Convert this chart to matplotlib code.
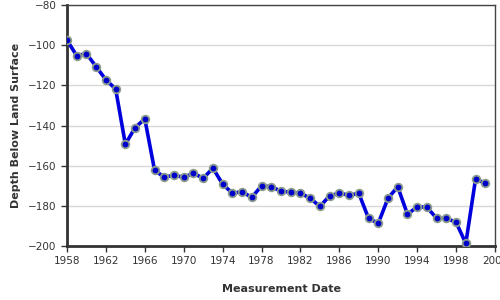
import matplotlib
matplotlib.use("Agg")
import matplotlib.pyplot as plt

years = list(range(1958, 2002))
depth = [-97.5, -105.2, -104.2, -110.7, -117.2, -121.8, -149.3, -141.0, -136.7,
         -162.2, -165.8, -164.7, -165.8, -163.7, -166.3, -161.2, -169.2, -173.7,
         -173.0, -175.8, -170.0, -170.5, -172.7, -173.2, -173.7, -176.2, -180.3,
         -175.0, -173.7, -174.7, -173.8, -186.2, -188.7, -176.2, -170.5, -184.2,
         -180.5, -180.7, -186.2, -186.2, -188.2, -198.7, -166.7, -168.7]
xticks = list(range(1958, 2003, 4))
yticks = list(range(-200, -79, 20))

fig = plt.figure(figsize=(5, 3), dpi=100)
ax = fig.add_axes([0.134, 0.18, 0.856, 0.803])
ax.plot(years, depth, color='#0000dd', lw=2.6, zorder=3,
        marker='o', markersize=5.5, markerfacecolor='#0000cc',
        markeredgecolor='#8c9c8c', markeredgewidth=1.3)
ax.set_xlim(1958, 2002)
ax.set_ylim(-200, -80)
ax.set_xticks(xticks)
ax.set_yticks(yticks)
ax.grid(axis='y', color='#d8d8d8', lw=1)
ax.set_axisbelow(True)
ax.tick_params(labelsize=7.5, length=4, width=1, colors='#333333', direction='out')
for s in ['left', 'bottom']:
    ax.spines[s].set_linewidth(2)
    ax.spines[s].set_color('#333333')
for s in ['top', 'right']:
    ax.spines[s].set_linewidth(1)
    ax.spines[s].set_color('#444444')
ax.set_xlabel('Measurement Date', fontsize=8, fontweight='bold', color='#333333', labelpad=13)
ax.set_ylabel('Depth Below Land Surface', fontsize=8, fontweight='bold', color='#333333', labelpad=5)
fig.savefig('out.png', dpi=100)
